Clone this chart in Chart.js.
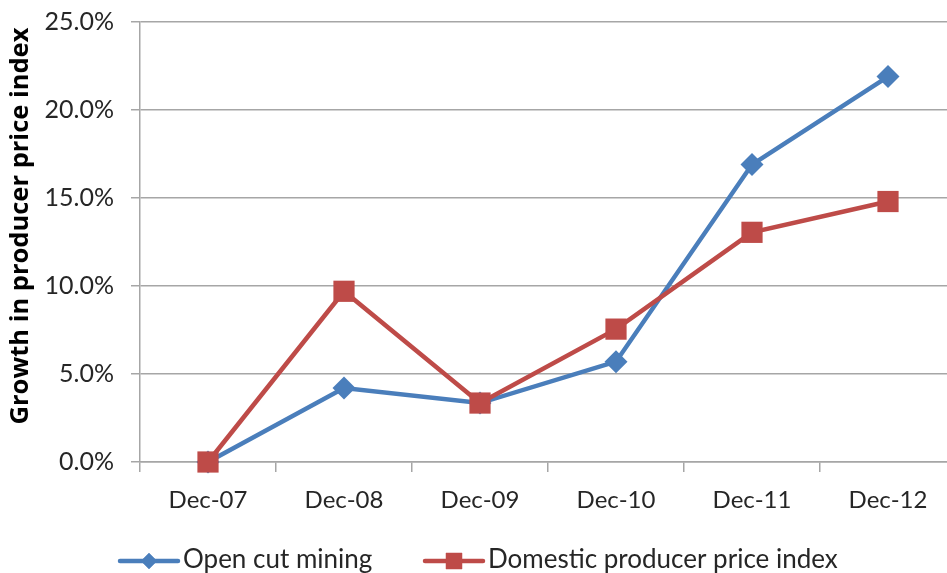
<!DOCTYPE html>
<html lang="en">
<head>
<meta charset="UTF-8">
<title>Growth in producer price index</title>
<script src="https://cdn.jsdelivr.net/npm/chart.js@4"></script>
<style>
  html, body { margin: 0; padding: 0; background: #fff; overflow: hidden; }
  #wrap { width: 971px; height: 573px; }
</style>
</head>
<body>
<div id="wrap"><canvas id="chart" width="971" height="573"></canvas></div>
<script>
// data
const categories = ['Dec-07', 'Dec-08', 'Dec-09', 'Dec-10', 'Dec-11', 'Dec-12'];
const openCutMining = [0.0, 4.2, 3.35, 5.7, 16.9, 21.9];
const domesticPPI = [0.0, 9.7, 3.35, 7.55, 13.05, 14.8];
const seriesNames = ['Open cut mining', 'Domestic producer price index'];
const yTicks = [0, 5, 10, 15, 20, 25];
const yTitle = 'Growth in producer price index';

const FONT = 'Lato, "Open Sans", sans-serif';
const TEXT = '#262626';
const GRID = '#a6a6a6';
const BLUE = '#4a7ebb';
const RED = '#be4b48';

// y title and legend are drawn by hand so they sit where the original has them
const extras = {
  id: 'extras',
  afterDraw(chart) {
    const ctx = chart.ctx;
    ctx.save();
    ctx.translate(21, 226);
    ctx.rotate(-Math.PI / 2);
    ctx.fillStyle = '#000';
    ctx.font = 'bold 25.5px "Open Sans", sans-serif';
    ctx.textAlign = 'center';
    ctx.textBaseline = 'middle';
    ctx.fillText(yTitle, 0, 0);
    ctx.restore();

    const items = [
      { x: 120, color: BLUE, style: 'rectRot', r: 8, text: seriesNames[0] },
      { x: 425, color: RED, style: 'rect', r: 11.5, text: seriesNames[1] }
    ];
    const y = 561;
    ctx.save();
    items.forEach(it => {
      ctx.strokeStyle = it.color;
      ctx.lineWidth = 4.5;
      ctx.lineCap = 'round';
      ctx.beginPath();
      ctx.moveTo(it.x, y);
      ctx.lineTo(it.x + 58, y);
      ctx.stroke();
      ctx.fillStyle = it.color;
      Chart.helpers.drawPoint(ctx, { pointStyle: it.style, radius: it.r, rotation: 0, borderWidth: 0 }, it.x + 29, y);
      ctx.fill();
      ctx.fillStyle = TEXT;
      ctx.font = '26px ' + FONT;
      ctx.textBaseline = 'middle';
      ctx.textAlign = 'left';
      ctx.fillText(it.text, it.x + 63, y - 1);
    });
    ctx.restore();
  }
};

new Chart(document.getElementById('chart'), {
  type: 'line',
  data: {
    labels: categories,
    datasets: [
      {
        label: seriesNames[0],
        data: openCutMining,
        borderColor: BLUE,
        backgroundColor: BLUE,
        borderWidth: 4.5,
        pointStyle: 'rectRot',
        pointRadius: 11.5,
        pointBorderWidth: 0,
        pointBackgroundColor: BLUE,
        order: 1,
        clip: false,
        tension: 0
      },
      {
        label: seriesNames[1],
        data: domesticPPI,
        borderColor: RED,
        backgroundColor: RED,
        borderWidth: 4.5,
        pointStyle: 'rect',
        pointRadius: 15,
        pointBorderWidth: 0,
        pointBackgroundColor: RED,
        order: 0,
        clip: false,
        tension: 0
      }
    ]
  },
  options: {
    responsive: false,
    animation: false,
    layout: { padding: { top: 22, left: 0, right: 10, bottom: 0 } },
    plugins: {
      legend: { display: false },
      tooltip: { enabled: false }
    },
    scales: {
      x: {
        offset: true,
        grid: {
          offset: true,
          drawOnChartArea: false,
          drawTicks: true,
          tickLength: 10,
          color: GRID,
          lineWidth: 1.5
        },
        border: { color: GRID, width: 1.5 },
        ticks: {
          color: TEXT,
          font: { family: FONT, size: 24 },
          padding: 14,
          maxRotation: 0
        },
        afterFit(scale) {
          scale.height = 111;
          scale.paddingLeft = 0;
          scale.paddingRight = 0;
        }
      },
      y: {
        min: 0,
        max: 25,
        afterBuildTicks(scale) { scale.ticks = yTicks.map(v => ({ value: v })); },
        grid: {
          color: GRID,
          lineWidth: 1.5,
          tickLength: 9
        },
        border: { color: GRID, width: 1.5 },
        ticks: {
          color: TEXT,
          font: { family: FONT, size: 25 },
          padding: 17,
          callback: v => v.toFixed(1) + '%'
        },
        afterFit(scale) {
          scale.width = 140;
          scale.paddingTop = 0;
          scale.paddingBottom = 0;
        }
      }
    }
  },
  plugins: [extras]
});
</script>
</body>
</html>
